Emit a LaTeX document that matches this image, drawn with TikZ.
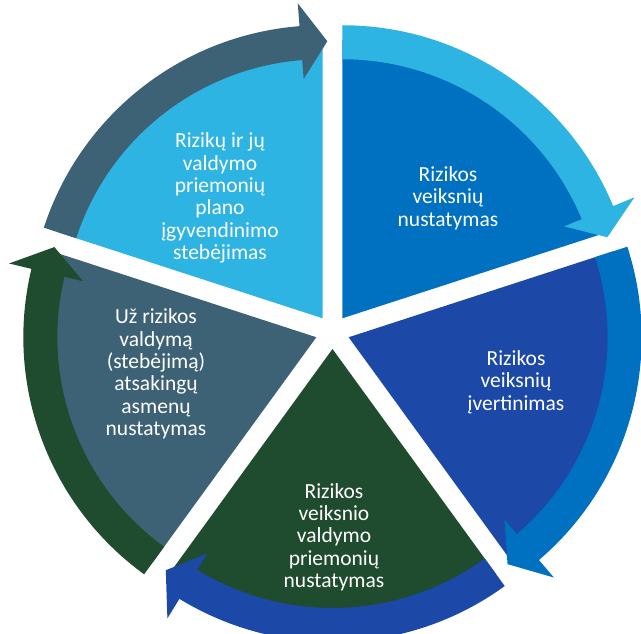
\documentclass[tikz,border=0pt]{standalone}
\usepackage{fontspec}
\setmainfont{Carlito}
\definecolor{riskblue}{RGB}{0,112,192}
\definecolor{riskroyal}{RGB}{28,72,168}
\definecolor{riskgreen}{RGB}{31,75,46}
\definecolor{riskslate}{RGB}{61,98,117}
\definecolor{risksky}{RGB}{46,180,226}
\begin{document}
\begin{tikzpicture}[x=1pt,y=1pt]
  \def\rpie{278}
  \def\rin{259}
  \def\rout{293}
  \def\rhin{240}
  \def\rhout{316}
  \def\rtip{277}

\tikzstyle{segtext}=[text=white,align=center,font=\fontsize{21.5}{22.3}\selectfont]
\useasboundingbox (-332.5,-302) rectangle (308.5,332);

% segment 1
\coordinate (A1) at (54:17);
\begin{scope}[shift={(A1)}]
\fill[riskblue] (0,0) -- (90:\rpie) arc[start angle=90,end angle=18,radius=\rpie] -- cycle;
\fill[risksky] (90:\rout) arc[start angle=90,end angle=22.5,radius=\rout] -- (22.5:\rhout) -- (17:\rtip)
  -- (22.5:\rhin) -- (22.5:\rin) arc[start angle=22.5,end angle=90,radius=\rin] -- cycle;
\end{scope}
% segment 2
\coordinate (A2) at (-18:17);
\begin{scope}[shift={(A2)}]
\fill[riskroyal] (0,0) -- (18:\rpie) arc[start angle=18,end angle=-54,radius=\rpie] -- cycle;
\fill[riskblue] (18:\rout) arc[start angle=18,end angle=-49.5,radius=\rout] -- (-49.5:\rhout) -- (-55:\rtip)
  -- (-49.5:\rhin) -- (-49.5:\rin) arc[start angle=-49.5,end angle=18,radius=\rin] -- cycle;
\end{scope}
% segment 3
\coordinate (A3) at (-90:17);
\begin{scope}[shift={(A3)}]
\fill[riskgreen] (0,0) -- (306:\rpie) arc[start angle=306,end angle=234,radius=\rpie] -- cycle;
\fill[riskroyal] (306:\rout) arc[start angle=306,end angle=238.5,radius=\rout] -- (238.5:\rhout) -- (233:\rtip)
  -- (238.5:\rhin) -- (238.5:\rin) arc[start angle=238.5,end angle=306,radius=\rin] -- cycle;
\end{scope}
% segment 4
\coordinate (A4) at (198:17);
\begin{scope}[shift={(A4)}]
\fill[riskslate] (0,0) -- (234:\rpie) arc[start angle=234,end angle=162,radius=\rpie] -- cycle;
\fill[riskgreen] (234:\rout) arc[start angle=234,end angle=166.5,radius=\rout] -- (166.5:\rhout) -- (161:\rtip)
  -- (166.5:\rhin) -- (166.5:\rin) arc[start angle=166.5,end angle=234,radius=\rin] -- cycle;
\end{scope}
% segment 5
\coordinate (A5) at (126:17);
\begin{scope}[shift={(A5)}]
\fill[risksky] (0,0) -- (162:\rpie) arc[start angle=162,end angle=90,radius=\rpie] -- cycle;
\fill[riskslate] (162:\rout) arc[start angle=162,end angle=94.5,radius=\rout] -- (94.5:\rhout) -- (89:\rtip)
  -- (94.5:\rhin) -- (94.5:\rin) arc[start angle=94.5,end angle=162,radius=\rin] -- cycle;
\end{scope}

\node[segtext] (T1) at (115.5,134) {Rizikos\\veiksnių\\nustatymas};
\node[segtext] (T2) at (183.5,-50) {Rizikos\\veiksnių\\įvertinimas};
\node[segtext] (T3) at (1.5,-205) {Rizikos\\veiksnio\\valdymo\\priemonių\\nustatymas};
\node[segtext] (T4) at (-176.5,-42) {Už rizikos\\valdymą\\(stebėjimą)\\atsakingų\\asmenų\\nustatymas};
\node[segtext] (T5) at (-112.5,134) {Rizikų ir jų\\valdymo\\priemonių\\plano\\įgyvendinimo\\stebėjimas};
\end{tikzpicture}
\end{document}
